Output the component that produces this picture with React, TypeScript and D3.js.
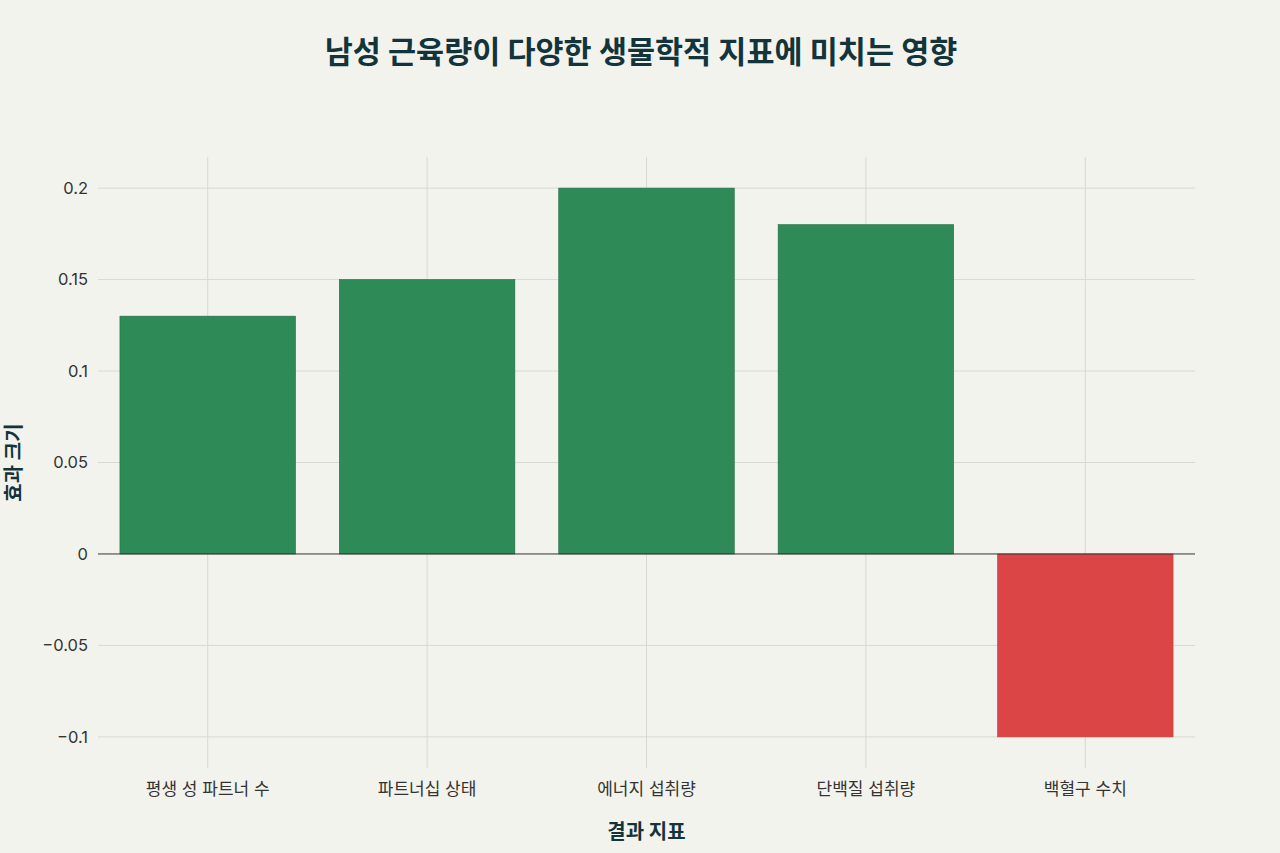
import React from "react";
import * as d3 from "d3";

const categories = ["평생 성 파트너 수", "파트너십 상태", "에너지 섭취량", "단백질 섭취량", "백혈구 수치"];
const effectSizes = [0.13, 0.15, 0.2, 0.18, -0.1];
const yTicks = [-0.1, -0.05, 0, 0.05, 0.1, 0.15, 0.2];
const yTickLabels = ["−0.1", "−0.05", "0", "0.05", "0.1", "0.15", "0.2"];

const W = 1280;
const H = 853;
const left = 98;
const right = 1195;
const top = 157;
const bottom = 768;
const FONT = "Inter, 'Noto Sans CJK KR', sans-serif";

export default function App() {
  const x = d3.scaleBand<string>().domain(categories).range([left, right]).paddingInner(0.2).paddingOuter(0.1);
  const y = d3.scaleLinear().domain([-0.117, 0.217]).range([bottom, top]);
  const centers = categories.map((c) => (x(c) as number) + x.bandwidth() / 2);

  return (
    <svg width={W} height={H} style={{ position: "absolute", left: 0, top: 0, display: "block" }} fontFamily={FONT}>
      <rect x={0} y={0} width={W} height={H} fill="#F3F3EE" />
      <text x={641} y={63} textAnchor="middle" fontSize={30.5} fontWeight={700} fill="#13343B">
        남성 근육량이 다양한 생물학적 지표에 미치는 영향
      </text>
      {yTicks.filter((t) => t !== 0).map((t) => (
        <line key={"gy" + t} x1={left} x2={right} y1={y(t)} y2={y(t)} stroke="#D9D9D4" strokeWidth={1} />
      ))}
      {centers.map((cx, i) => (
        <line key={"gx" + i} x1={cx} x2={cx} y1={top} y2={bottom} stroke="#D9D9D4" strokeWidth={1} />
      ))}
      {categories.map((c, i) => {
        const v = effectSizes[i];
        const y0 = y(0);
        const y1 = y(v);
        const pos = v >= 0;
        return (
          <rect
            key={c}
            x={x(c)}
            y={Math.min(y0, y1)}
            width={x.bandwidth()}
            height={Math.abs(y1 - y0)}
            fill={pos ? "#2E8B57" : "#DB4545"}
            stroke={pos ? "#1F6B42" : "#C43C3C"}
            strokeWidth={0.6}
          />
        );
      })}
      <line x1={left} x2={right} y1={y(0)} y2={y(0)} stroke="#333" strokeWidth={1} />
      {yTicks.map((t, i) => (
        <text key={"yt" + t} x={88} y={y(t)} dy="0.35em" textAnchor="end" fontSize={16.5} fill="#333">
          {yTickLabels[i]}
        </text>
      ))}
      {categories.map((c, i) => (
        <text key={"xt" + c} x={centers[i]} y={795} textAnchor="middle" fontSize={17} fill="#333">
          {c}
        </text>
      ))}
      <text x={(left + right) / 2} y={839} textAnchor="middle" fontSize={20} fontWeight={700} fill="#13343B">
        결과 지표
      </text>
      <text
        transform={`translate(21, ${(top + bottom) / 2}) rotate(-90)`}
        textAnchor="middle"
        fontSize={20}
        fontWeight={700}
        fill="#13343B"
      >
        효과 크기
      </text>
    </svg>
  );
}
